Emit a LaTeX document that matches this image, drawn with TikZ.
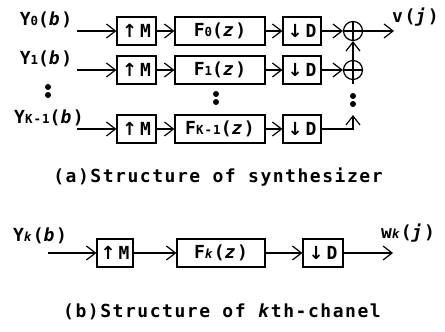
\documentclass[tikz,border=0pt]{standalone}
\usepackage{fontspec}
\setmainfont{DejaVu Sans Mono}[LetterSpace=8.5]
\newfontfamily\arrfont{DejaVu Sans}
\usetikzlibrary{arrows.meta}
\newcommand{\sbs}[1]{{\fontsize{12.5}{12.5}\selectfont #1}}
\newcommand{\uparr}{{\arrfont\fontsize{18}{18}\selectfont ↑}}
\newcommand{\dnarr}{{\arrfont\fontsize{18}{18}\selectfont ↓}}
\begin{document}
\begin{tikzpicture}[x=1pt,y=-1pt,
  font=\fontsize{18}{18}\selectfont\bfseries,
  blk/.style={draw,line width=1.2pt,minimum height=28pt,inner sep=0pt},
  arr/.style={line width=1.2pt,-{Straight Barb[length=9pt,width=14pt,line width=1.2pt]}},
  ln/.style={line width=1.2pt},
  adder/.style={draw,circle,line width=1.2pt,minimum size=19pt,inner sep=0pt,
    path picture={\draw[line width=1.2pt] (path picture bounding box.north) -- (path picture bounding box.south)
      (path picture bounding box.west) -- (path picture bounding box.east);}},
  dot/.style={circle,fill,minimum size=6pt,inner sep=0pt},
  lbl/.style={inner sep=0pt}]
\useasboundingbox (0,0) rectangle (445,332);
% ---------- (a) ----------
\foreach \r/\y/\s in {0/31/0,1/70/1,2/129/{K-1}} {
  \node[blk,minimum width=39pt] (M\r) at (136.5,\y) {\uparr\,M};
  \node[blk,minimum width=90pt] (F\r) at (220,\y) {F\sbs{\s}(\textit{z})};
  \node[blk,minimum width=38pt] (D\r) at (302,\y) {\dnarr\,D};
  \coordinate (s\r) at (77,\y);
  \draw[arr] (s\r) -- (M\r.west);
  \draw[arr] (M\r.east) -- (F\r.west);
  \draw[arr] (F\r.east) -- (D\r.west);
}
\node[lbl] (Y0) at (46,20) {Y\sbs{0}(\textit{b})};
\node[lbl] (Y1) at (46,59) {Y\sbs{1}(\textit{b})};
\node[lbl] (Y2) at (49,118) {Y\sbs{K-1}(\textit{b})};
\node[adder] (A0) at (353,31) {};
\node[adder] (A1) at (353,70) {};
\draw[arr] (D0.east) -- (A0.west);
\draw[arr] (D1.east) -- (A1.west);
\draw[arr] (A1.north) -- (A0.south);
\coordinate (o) at (394,31);
\draw[arr] (A0.east) -- (o);
\node[lbl,anchor=west] (v) at (392,17) {v(\textit{j})};
\coordinate (c1) at (353,84);
\draw[ln] (A1.south) -- (c1);
\coordinate (t2) at (353,115);
\draw[arr] (D2.east) -| (t2);
% dots
\node[dot] (da1) at (48,87) {};
\node[dot] (da2) at (48,95) {};
\node[dot] (db1) at (216,94) {};
\node[dot] (db2) at (216,102) {};
\node[dot] (dc1) at (353,96) {};
\node[dot] (dc2) at (353,104) {};
\node (capa) at (218,177) {(a)Structure of synthesizer};
% ---------- (b) ----------
\node[blk,minimum width=36pt] (Mk) at (115,253) {\uparr\,M};
\node[blk,minimum width=88pt] (Fk) at (221,253) {F\sbs{\textit{k}}(\textit{z})};
\node[blk,minimum width=40pt] (Dk) at (323,253) {\dnarr\,D};
\coordinate (sk) at (48,253);
\coordinate (ok) at (393,253);
\draw[arr] (sk) -- (Mk.west);
\draw[arr] (Mk.east) -- (Fk.west);
\draw[arr] (Fk.east) -- (Dk.west);
\draw[arr] (Dk.east) -- (ok);
\node[lbl] (Yk) at (40,236) {Y\sbs{\textit{k}}(\textit{b})};
\node[lbl] (wk) at (408,233) {w\sbs{\textit{k}}(\textit{j})};
\node (capb) at (222,312) {(b)Structure of \textit{k}th-chanel};
\end{tikzpicture}
\end{document}
